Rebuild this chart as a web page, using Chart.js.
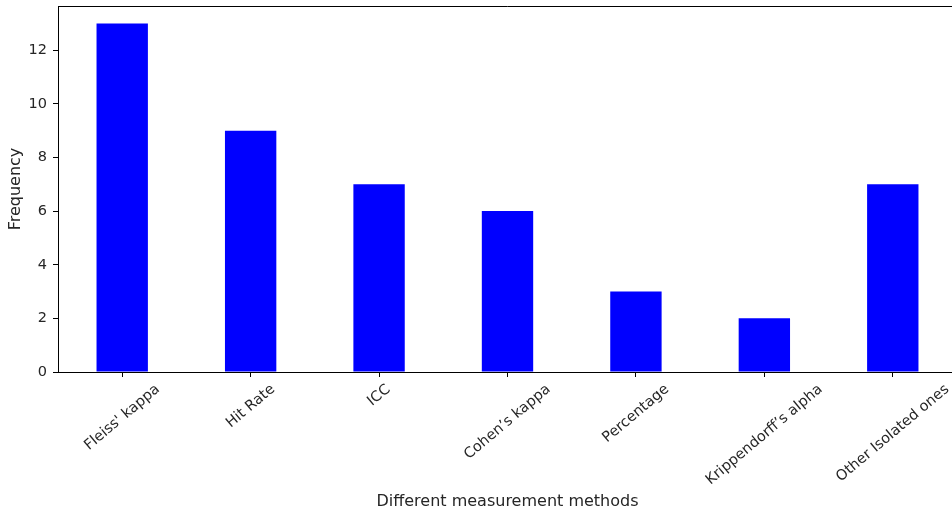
<!DOCTYPE html>
<html>
<head>
<meta charset="utf-8">
<script src="https://cdn.jsdelivr.net/npm/chart.js@4"></script>
<style>
  html, body { margin: 0; padding: 0; background: #fff; overflow: hidden; }
  #wrap { width: 952px; height: 514px; overflow: hidden; }
</style>
</head>
<body>
<div id="wrap"><canvas id="chart" width="964" height="514"></canvas></div>
<script>
// ── DATA ───────────────────────────────────────────────────────────────
const methods = ["Fleiss' kappa", "Hit Rate", "ICC", "Cohen\u2019s kappa", "Percentage", "Krippendorff\u2019s alpha", "Other Isolated ones"];
const frequency = [13, 9, 7, 6, 3, 2, 7];
const yTicks = [0, 2, 4, 6, 8, 10, 12];

const FONT = "'DejaVu Sans', sans-serif";
const TEXT = '#262626';
const TICK_SIZE = 14.5;

// top and right spines (left/bottom come from the axes)
const framePlugin = {
  id: 'frame',
  afterDraw(chart) {
    const { ctx, chartArea: a } = chart;
    ctx.save();
    ctx.strokeStyle = '#000';
    ctx.lineWidth = 1;
    ctx.beginPath();
    ctx.moveTo(a.left, Math.round(a.top) + 0.5);
    ctx.lineTo(Math.round(a.right) + 0.5, Math.round(a.top) + 0.5);
    ctx.lineTo(Math.round(a.right) + 0.5, a.bottom);
    ctx.stroke();
    ctx.restore();
  }
};

// rotated x labels, centred on the tick like matplotlib does
const xLabelPlugin = {
  id: 'xlabels',
  afterDraw(chart) {
    const { ctx } = chart;
    const xs = chart.scales.x;
    const ang = 40 * Math.PI / 180;
    ctx.save();
    ctx.font = TICK_SIZE + 'px ' + FONT;
    ctx.fillStyle = TEXT;
    ctx.textAlign = 'center';
    ctx.textBaseline = 'middle';
    methods.forEach((label, i) => {
      const x = xs.getPixelForTick(i);
      const w = ctx.measureText(label).width;
      const h = TICK_SIZE * 1.17;
      const bboxH = w * Math.sin(ang) + h * Math.cos(ang);
      const y = chart.chartArea.bottom + 9 + bboxH / 2;
      ctx.save();
      ctx.translate(x, y);
      ctx.rotate(-ang);
      ctx.fillText(label, 0, 0);
      ctx.restore();
    });
    ctx.restore();
  }
};

new Chart(document.getElementById('chart'), {
  type: 'bar',
  data: {
    labels: methods,
    datasets: [{
      label: 'Frequency',
      data: frequency,
      backgroundColor: '#0000ff',
      borderWidth: 0,
      categoryPercentage: 1,
      barPercentage: 0.4,
    }]
  },
  options: {
    responsive: false,
    animation: false,
    layout: { padding: { top: 6, right: 7, left: 0, bottom: 0 } },
    plugins: {
      legend: { display: false },
      tooltip: { enabled: false }
    },
    scales: {
      x: {
        grid: { offset: false, drawOnChartArea: false, drawTicks: true, tickLength: 5, color: '#000' },
        border: { display: true, color: '#000' },
        ticks: { display: false },
        title: {
          display: true,
          text: 'Different measurement methods',
          color: TEXT,
          font: { family: FONT, size: 16 },
          padding: { top: 0, bottom: 3 }
        },
        afterFit(scale) { scale.height = 142; }
      },
      y: {
        min: 0,
        max: 13.65,
        grid: { drawOnChartArea: false, drawTicks: true, tickLength: 5, color: '#000' },
        border: { display: true, color: '#000' },
        ticks: {
          stepSize: 2,
          includeBounds: false,
          padding: 6,
          color: TEXT,
          font: { family: FONT, size: TICK_SIZE }
        },
        afterBuildTicks(scale) {
          scale.ticks = yTicks.map(v => ({ value: v }));
        },
        title: {
          display: true,
          text: 'Frequency',
          color: TEXT,
          font: { family: FONT, size: 16 },
          padding: { top: 6, bottom: 0 }
        },
        afterFit(scale) {
          scale.width = 58;
          scale.paddingTop = 0;
          scale.paddingBottom = 0;
        }
      }
    }
  },
  plugins: [framePlugin, xLabelPlugin]
});
</script>
</body>
</html>
